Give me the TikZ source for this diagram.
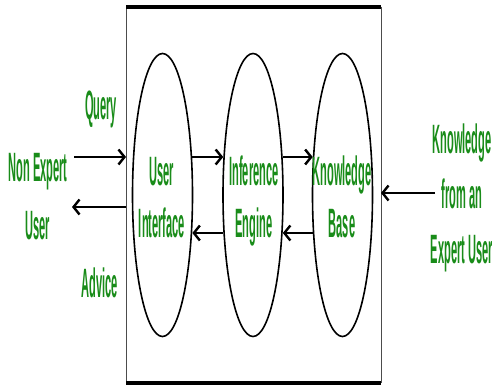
\documentclass[tikz,border=0pt]{standalone}
\usepackage{fontspec}
\setmainfont{Liberation Sans}
\usetikzlibrary{shapes.geometric,arrows.meta}
\definecolor{txtgreen}{RGB}{25,140,25}
\newcommand\sqz[2][52pt]{\scalebox{0.27}[1]{\fontsize{41}{#1}\selectfont\bfseries\begin{tabular}[t]{@{}c@{}}#2\end{tabular}}}
\begin{document}
\begin{tikzpicture}[x=1pt,y=-1pt,
  lbl/.style={text=txtgreen,inner sep=0pt,anchor=base},
  oval/.style={ellipse,draw=black,line width=1.6pt,minimum width=60pt,minimum height=283pt,inner sep=0pt},
  arr/.style={line width=2.6pt,-{Straight Barb[length=6pt,width=15pt,line width=2.4pt]}},
  side/.style={line width=1pt,draw=black!70},
  rail/.style={line width=3.5pt,draw=black}]
\useasboundingbox (0,0) rectangle (492,385);
\fill[white] (0,0) rectangle (492,385);
% enclosing box
\coordinate (tl) at (126,7);
\coordinate (tr) at (381,7);
\coordinate (bl) at (126,383);
\coordinate (br) at (381,383);
\draw[side] (tl) -- (bl);
\draw[side] (tr) -- (br);
\draw[rail] (tl) -- (tr);
\draw[rail] (bl) -- (br);
% ellipses
\node[oval] (ui) at (162.5,195) {};
\node[oval] (ie) at (253,195) {};
\node[oval] (kb) at (342.5,195) {};
% labels in ellipses
\node[lbl] (uit) at (162,185) {\sqz{User\\Interface}};
\node[lbl] (iet) at (254,185) {\sqz{Inference\\Engine}};
\node[lbl] (kbt) at (342,185) {\sqz{Knowledge\\Base}};
% outside labels
\node[lbl] (query) at (101,120) {\sqz{Query}};
\node[lbl] (advice) at (100,297) {\sqz{Advice}};
\node[lbl] (user) at (38,181) {\sqz[58pt]{Non Expert\\User}};
\node[lbl] (expert) at (462,153) {\sqz[55pt]{Knowledge\\from an\\Expert User}};
% rows for arrows
\coordinate (rowA) at (0,157);
\coordinate (rowB) at (0,207);
\coordinate (rowC) at (0,233);
\coordinate (rowD) at (0,193);
\coordinate (qstart) at (74,157);
\coordinate (aend) at (72,207);
\coordinate (kstart) at (435,193);
% arrows
\draw[arr] (qstart) -- (tl |- rowA);
\draw[arr] (tl |- rowB) -- (aend);
\draw[arr] ([xshift=-1pt]ui.east |- rowA) -- ([xshift=1pt]ie.west |- rowA);
\draw[arr] ([xshift=-1pt]ie.east |- rowA) -- ([xshift=1pt]kb.west |- rowA);
\draw[arr] ([xshift=1pt]kb.west |- rowC) -- ([xshift=-1pt]ie.east |- rowC);
\draw[arr] ([xshift=1pt]ie.west |- rowC) -- ([xshift=-1pt]ui.east |- rowC);
\draw[arr] (kstart) -- (tr |- rowD);
\end{tikzpicture}
\end{document}
